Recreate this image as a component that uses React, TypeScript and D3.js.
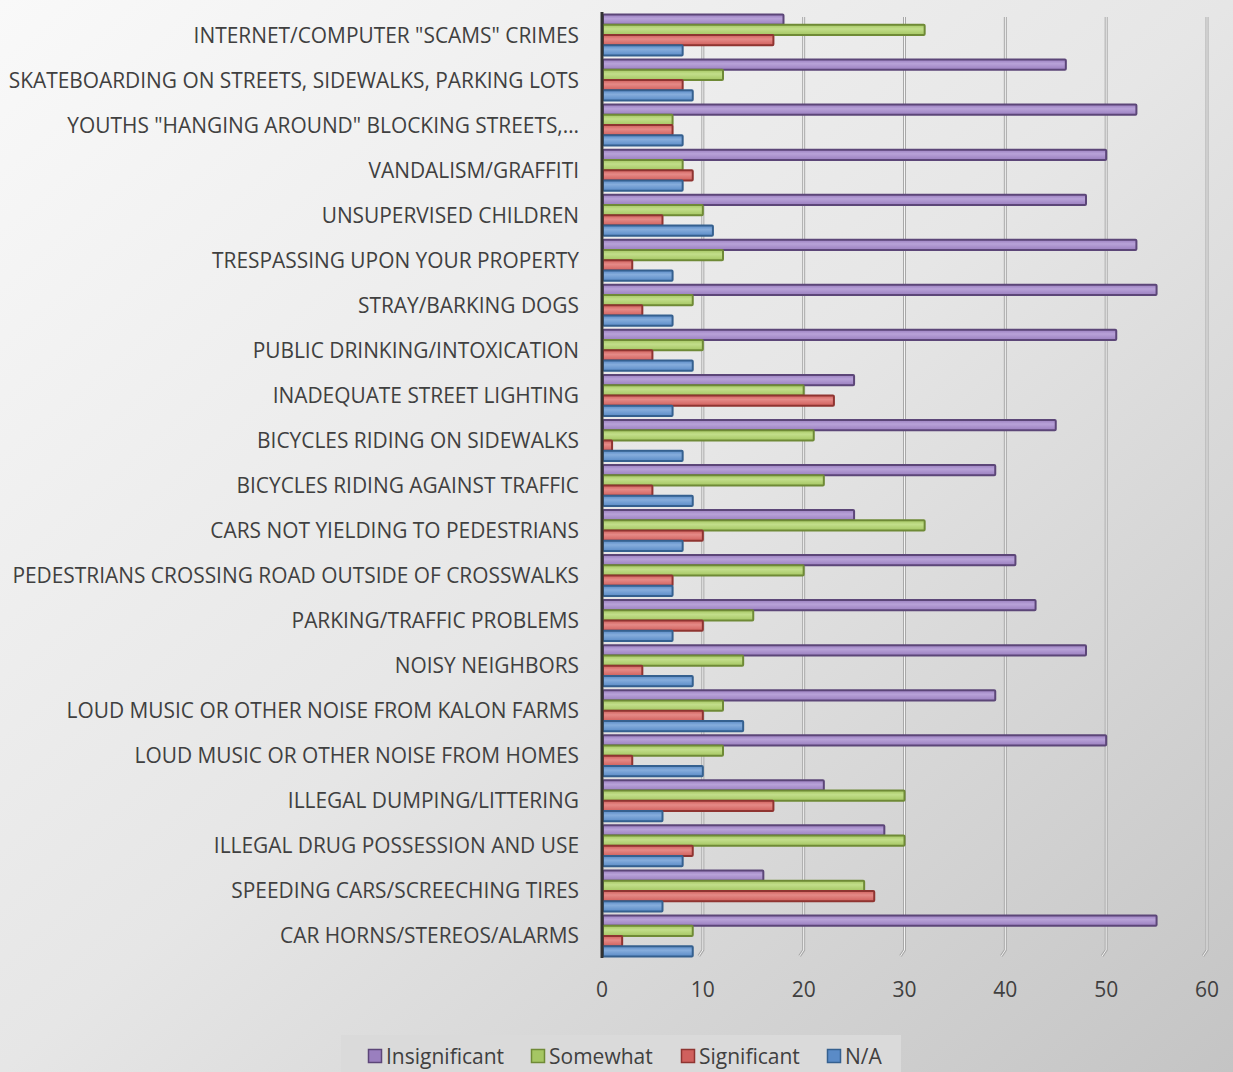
import React from "react";
import * as d3 from "d3";

const categories = [
  'INTERNET/COMPUTER "SCAMS" CRIMES',
  "SKATEBOARDING ON STREETS, SIDEWALKS, PARKING LOTS",
  'YOUTHS "HANGING AROUND" BLOCKING STREETS,…',
  "VANDALISM/GRAFFITI",
  "UNSUPERVISED CHILDREN",
  "TRESPASSING UPON YOUR PROPERTY",
  "STRAY/BARKING DOGS",
  "PUBLIC DRINKING/INTOXICATION",
  "INADEQUATE STREET LIGHTING",
  "BICYCLES RIDING ON SIDEWALKS",
  "BICYCLES RIDING AGAINST TRAFFIC",
  "CARS NOT YIELDING TO PEDESTRIANS",
  "PEDESTRIANS CROSSING ROAD OUTSIDE OF CROSSWALKS",
  "PARKING/TRAFFIC PROBLEMS",
  "NOISY NEIGHBORS",
  "LOUD MUSIC OR OTHER NOISE FROM KALON FARMS",
  "LOUD MUSIC OR OTHER NOISE FROM HOMES",
  "ILLEGAL DUMPING/LITTERING",
  "ILLEGAL DRUG POSSESSION AND USE",
  "SPEEDING CARS/SCREECHING TIRES",
  "CAR HORNS/STEREOS/ALARMS",
];

const insignificant = [18, 46, 53, 50, 48, 53, 55, 51, 25, 45, 39, 25, 41, 43, 48, 39, 50, 22, 28, 16, 55];
const somewhat = [32, 12, 7, 8, 10, 12, 9, 10, 20, 21, 22, 32, 20, 15, 14, 12, 12, 30, 30, 26, 9];
const significant = [17, 8, 7, 9, 6, 3, 4, 5, 23, 1, 5, 10, 7, 10, 4, 10, 3, 17, 9, 27, 2];
const notApplicable = [8, 9, 8, 8, 11, 7, 7, 9, 7, 8, 9, 8, 7, 7, 9, 14, 10, 6, 8, 6, 9];

const seriesNames = ["Insignificant", "Somewhat", "Significant", "N/A"];
const xTicks = [0, 10, 20, 30, 40, 50, 60];

const seriesValues = [insignificant, somewhat, significant, notApplicable];
const fills = ["#9a7fbf", "#a5c663", "#d0605d", "#5a8bc7"];
const lights = ["#b8a2d8", "#c2de8a", "#e58a87", "#86addc"];
const strokes = ["#5c4678", "#6f8a36", "#8f3431", "#35608f"];

const W = 1233;
const H = 1072;
const FONT = "'Open Sans', 'Noto Sans', sans-serif";

export default function App() {
  const x = d3.scaleLinear().domain([0, 60]).range([602, 1207]);
  const y = d3.scaleBand<string>().domain(categories).range([12, 958]).padding(0);
  const inner = d3
    .scaleBand<string>()
    .domain(seriesNames)
    .range([2.5, 43.5])
    .padding(0);

  const legendItems = [
    { name: "Insignificant", sx: 368 },
    { name: "Somewhat", sx: 531 },
    { name: "Significant", sx: 681 },
    { name: "N/A", sx: 827 },
  ];

  return (
    <svg
      width={W}
      height={H}
      style={{ position: "absolute", left: 0, top: 0, display: "block" }}
    >
      <defs>
        <linearGradient id="bg" x1="0" y1="0" x2="1" y2="1">
          <stop offset="0%" stopColor="#f9f9f9" />
          <stop offset="50%" stopColor="#e6e6e6" />
          <stop offset="100%" stopColor="#c4c4c4" />
        </linearGradient>
        {fills.map((f, i) => (
          <linearGradient key={i} id={`bar${i}`} x1="0" y1="0" x2="0" y2="1">
            <stop offset="0%" stopColor={f} />
            <stop offset="40%" stopColor={lights[i]} />
            <stop offset="100%" stopColor={f} />
          </linearGradient>
        ))}
      </defs>
      <rect x={0} y={0} width={W} height={H} fill="url(#bg)" />

      {/* gridlines */}
      {xTicks.slice(1).map((t) => (
        <g key={t}>
          <path
            d={`M${x(t)},17 L${x(t)},950 L${x(t) - 4},956`}
            fill="none"
            stroke="#a8a8a8"
            strokeWidth={3}
          />
          <path
            d={`M${x(t)},17 L${x(t)},950 L${x(t) - 4},956`}
            fill="none"
            stroke="#f4f4f4"
            strokeWidth={1}
          />
        </g>
      ))}

      {/* bars */}
      {categories.map((c, ci) => (
        <g key={c} transform={`translate(0,${y(c)})`}>
          {seriesNames.map((s, si) => {
            const v = seriesValues[si][ci];
            const x0 = x(0) + 1;
            const w = Math.max(0, x(v) - x0);
            return (
              <rect
                key={s}
                x={x0}
                y={inner(s)}
                width={w}
                height={inner.bandwidth()}
                fill={`url(#bar${si})`}
                stroke={strokes[si]}
                strokeWidth={2}
                rx={1}
              />
            );
          })}
        </g>
      ))}

      {/* axis line */}
      <line x1={602} x2={602} y1={12} y2={958} stroke="#333" strokeWidth={3} />

      {/* category labels */}
      {categories.map((c) => (
        <text
          key={c}
          x={579}
          y={(y(c) as number) + y.bandwidth() / 2}
          textAnchor="end"
          dominantBaseline="central"
          fontFamily={FONT}
          fontSize={20.9}
          fill="#404040"
        >
          {c}
        </text>
      ))}

      {/* tick labels */}
      {xTicks.map((t) => (
        <text
          key={t}
          x={x(t)}
          y={989}
          textAnchor="middle"
          dominantBaseline="central"
          fontFamily={FONT}
          fontSize={21}
          fill="#404040"
        >
          {t}
        </text>
      ))}

      {/* legend */}
      <rect x={341} y={1035} width={560} height={40} fill="#dadada" />
      {legendItems.map((it, i) => (
        <g key={it.name}>
          <rect
            x={it.sx + 0.5}
            y={1049.5}
            width={13}
            height={13}
            fill={fills[i]}
            stroke={strokes[i]}
            strokeWidth={1.5}
          />
          <text
            x={it.sx + 18}
            y={1056}
            dominantBaseline="central"
            fontFamily={FONT}
            fontSize={21}
            fill="#404040"
          >
            {it.name}
          </text>
        </g>
      ))}
    </svg>
  );
}
